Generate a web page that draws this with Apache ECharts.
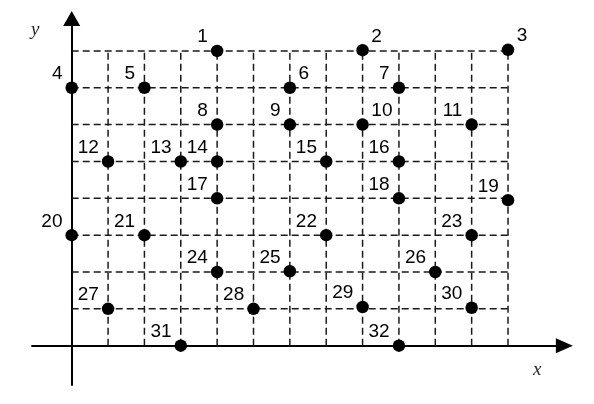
<!DOCTYPE html>
<html>
<head>
<meta charset="utf-8">
<style>html,body{margin:0;padding:0;background:#fff}#c{width:594px;height:404px}</style>
<script src="https://cdn.jsdelivr.net/npm/echarts@6/dist/echarts.min.js"></script>
</head>
<body>
<div id="c"></div>
<script>
// Data
const pointIds = [1,2,3,4,5,6,7,8,9,10,11,12,13,14,15,16,17,18,19,20,21,22,23,24,25,26,27,28,29,30,31,32];
const pointX   = [4,8,12,0,2,6,9,4,6,8,11,1,3,4,7,9,4,9,12,0,2,7,11,4,6,10,1,5,8,11,3,9];
const pointY   = [8,8.02,8.03,7,7,7,7,6,6,6,6,5,5,5,5,5,4,4,3.95,3,3,3,3,2,2.02,2,1,1,1.05,1.03,0,0];
const gridXTicks = [1,2,3,4,5,6,7,8,9,10,11,12];
const gridYTicks = [1,2,3,4,5,6,7,8];
const rightLabelIds = [2,3,6,10];

const gridXMax = gridXTicks[gridXTicks.length-1];
const gridYMax = gridYTicks[gridYTicks.length-1];

const dashStyle = {color:'#1a1a1a', width:1.5, type:[7,4], opacity:1};
const series = [];
gridXTicks.forEach(function(v){
  series.push({type:'line', data:[[v,0],[v,gridYMax]], symbol:'none', silent:true, z:1,
    lineStyle:dashStyle, animation:false});
});
gridYTicks.forEach(function(v){
  series.push({type:'line', data:[[0,v],[gridXMax,v]], symbol:'none', silent:true, z:1,
    lineStyle:dashStyle, animation:false});
});

const pts = pointIds.map(function(id,i){
  const right = rightLabelIds.indexOf(id) >= 0;
  return {
    value:[pointX[i], pointY[i]],
    name:String(id),
    label:{
      show:true,
      formatter:String(id),
      position: right ? [15,2] : [-3,2],
      align: right ? 'left' : 'right',
      verticalAlign:'bottom'
    }
  };
});
series.push({
  type:'scatter', data:pts, symbol:'circle', symbolSize:12.5, z:5,
  itemStyle:{color:'#000', opacity:1},
  label:{color:'#000', opacity:1, fontFamily:'Liberation Sans, Arial, sans-serif', fontSize:19},
  emphasis:{disabled:true},
  animation:false
});

const chart = echarts.init(document.getElementById('c'), null, {renderer:'canvas'});
chart.setOption({
  backgroundColor:'#fff',
  animation:false,
  grid:{left:32.07, top:18.5, width:532.3, height:366.5, containLabel:false},
  xAxis:{type:'value', min:-1.09, max:13.55,
    axisLine:{show:true, onZero:true, symbol:['none','triangle'], symbolSize:[15,17],
      lineStyle:{color:'#000', width:2}},
    axisTick:{show:false}, axisLabel:{show:false}, splitLine:{show:false}},
  yAxis:{type:'value', min:-1.067, max:8.88,
    axisLine:{show:true, onZero:true, symbol:['none','triangle'], symbolSize:[17,15],
      lineStyle:{color:'#000', width:2}},
    axisTick:{show:false}, axisLabel:{show:false}, splitLine:{show:false}},
  graphic:[
    {type:'text', left:31, top:20, style:{text:'y', font:'italic 19px "Liberation Serif", "Times New Roman", serif', fill:'#1c2433'}},
    {type:'text', left:533, top:360, style:{text:'x', font:'italic 19px "Liberation Serif", "Times New Roman", serif', fill:'#1c2433'}}
  ],
  series:series
});
</script>
</body>
</html>
